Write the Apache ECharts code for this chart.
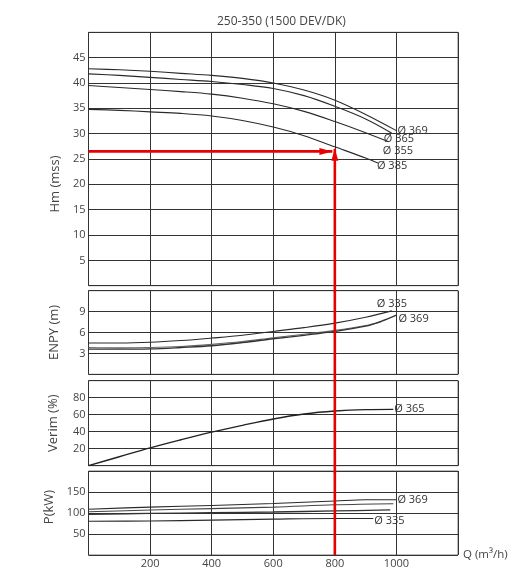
<!DOCTYPE html>
<html>
<head>
<meta charset="utf-8">
<script src="https://cdn.jsdelivr.net/npm/echarts@6/dist/echarts.min.js"></script>
<style>
html,body{margin:0;padding:0;background:#fff;}
#chart{width:529px;height:580px;}
</style>
</head>
<body>
<div id="chart"></div>
<script>
// ---------- Data ----------
const titleText = '250-350 (1500 DEV/DK)';

// Head curves Hm (mss) vs Q (m³/h)
const hm369Q = [0,100,200,300,400,500,600,700,800,900,1000];
const hm369  = [42.8,42.6,42.3,41.9,41.5,40.9,40.0,38.6,36.6,33.8,30.6];
const hm365Q = [0,100,200,300,400,500,600,700,800,900,985];
const hm365  = [41.8,41.5,41.1,40.7,40.3,39.7,38.9,37.5,35.4,32.9,30.1];
const hm355Q = [0,100,200,300,400,500,600,700,800,900,975];
const hm355  = [39.5,39.1,38.7,38.3,37.8,37.0,35.9,34.4,32.4,30.2,28.4];
const hm385Q = [0,100,200,300,400,500,600,700,800,900,940];
const hm385  = [34.8,34.6,34.3,34.0,33.5,32.6,31.3,29.6,27.4,25.2,24.2];

// NPSH (ENPY) curves
const np335Q = [0,100,200,300,400,500,600,700,800,900,985];
const np335  = [4.5,4.5,4.6,4.85,5.2,5.6,6.15,6.7,7.35,8.2,9.1];
const np369Q = [0,100,200,300,400,500,600,700,800,900,950,1000];
const np369  = [3.6,3.6,3.65,3.85,4.1,4.55,5.1,5.6,6.15,6.9,7.6,8.5];
const npMidQ = [0,100,200,300,400,500,600,700,800,900,950];
const npMid  = [3.85,3.8,3.85,4.0,4.3,4.7,5.25,5.75,6.3,7.0,7.5];

// Efficiency (Verim %)
const ef365Q = [0,100,200,300,400,500,600,700,800,900,990];
const ef365  = [0,10.5,21,30.5,39.5,47.5,55,60.8,64.3,66,66.3];

// Power P (kW)
const pw369Q = [0,200,400,600,800,900,1000];
const pw369  = [109,114,118,122.7,128.5,131.5,131.7];
const pwBQ   = [0,200,400,600,800,990];
const pwB    = [103,107,110.5,114,119.5,122];
const pwCQ   = [0,200,400,600,800,980];
const pwC    = [97,99,100.8,102.4,104.9,107.3];
const pw335Q = [0,200,400,600,800,925];
const pw335  = [80.5,81,83,85.4,87,87];

// Operating point annotation
const opQ = 800;        // vertical red line
const opH = 26.5;       // horizontal red line
const opArrowQ = 792;   // horizontal arrow tip
const opArrowH = 27;    // vertical arrow tip

// Axis settings
const xTicks = [0,200,400,600,800,1000,1200];
const hmRange = [0,50,5];
const npRange = [0,12,3];
const efRange = [0,100,20];
const pwRange = [0,200,50];

// ---------- Chart ----------
const FONT = 'Open Sans';
const LABEL_COLOR = '#444';
const CURVE = '#2a2a2a';
const RED = '#e60000';

const gridBase = {left: 88.5, right: 71, show: true, borderColor: '#777', borderWidth: 1};
const grids = [
  Object.assign({top: 32.3, height: 253.4}, gridBase),
  Object.assign({top: 290.7, height: 83.6}, gridBase),
  Object.assign({top: 380.7, height: 85}, gridBase),
  Object.assign({top: 471, height: 84}, gridBase)
];

const plain = v => String(v);

function xAxis(i, last) {
  return {
    type: 'value', gridIndex: i, min: xTicks[0], max: xTicks[xTicks.length-1],
    interval: xTicks[1]-xTicks[0],
    axisLine: {show: false}, axisTick: {show: false},
    splitLine: {show: true, lineStyle: {color: '#333', width: 1}},
    axisLabel: {show: last, showMinLabel: false, showMaxLabel: false, formatter: plain,
      color: LABEL_COLOR, fontFamily: FONT, fontSize: 11, margin: 3},
    name: last ? 'Q (m³/h)' : '', nameLocation: 'end', nameGap: 5,
    nameTextStyle: {color: LABEL_COLOR, fontFamily: FONT, fontSize: 11.5, padding: [2,0,0,0]}
  };
}
function yAxis(i, r, name, gap, pad) {
  return {
    type: 'value', gridIndex: i, min: r[0], max: r[1], interval: r[2],
    axisLine: {show: false}, axisTick: {show: false},
    splitLine: {show: true, lineStyle: {color: '#333', width: 1}},
    axisLabel: {showMinLabel: false, showMaxLabel: false, formatter: plain, color: LABEL_COLOR,
      fontFamily: FONT, fontSize: 11, margin: 3},
    name: name, nameLocation: 'middle', nameGap: gap,
    nameTextStyle: {color: LABEL_COLOR, fontFamily: FONT, fontSize: 13, padding: pad}
  };
}

function zip(q, v) { return q.map((x, k) => [x, v[k]]); }

function curve(gi, q, v, label, off, color, width) {
  const s = {
    type: 'line', xAxisIndex: gi, yAxisIndex: gi, data: zip(q, v),
    smooth: 0.35, showSymbol: false, silent: true,
    lineStyle: {color: color || CURVE, width: width || 1.1}
  };
  if (label) {
    s.endLabel = {show: true, formatter: label, offset: off, distance: 1,
      color: '#333', fontFamily: FONT, fontSize: 11};
  }
  return s;
}

function redLine(gi, pts, arrow) {
  const data = pts.map((p, k) => {
    const it = {value: p, symbol: 'none'};
    if (k === pts.length - 1 && arrow) {
      it.symbol = 'triangle';
      it.symbolSize = arrow.size;
      it.symbolRotate = arrow.rotate;
      it.symbolOffset = arrow.offset;
    }
    return it;
  });
  return {
    type: 'line', xAxisIndex: gi, yAxisIndex: gi, data: data, clip: false,
    silent: true, showSymbol: true, z: 5,
    lineStyle: {color: RED, width: 2.6},
    itemStyle: {color: RED}
  };
}

const chart = echarts.init(document.getElementById('chart'), null, {renderer: 'canvas'});
chart.setOption({
  animation: false,
  backgroundColor: '#fff',
  title: {text: titleText, left: 212, top: 11,
    textStyle: {fontFamily: FONT, fontSize: 12, fontWeight: 'normal', color: '#444'}},
  grid: grids,
  xAxis: [xAxis(0,false), xAxis(1,false), xAxis(2,false), xAxis(3,true)],
  yAxis: [
    yAxis(0, hmRange, 'Hm (mss)', 24, [0,50,0,0]),
    yAxis(1, npRange, 'ENPY (m)', 28, [0,0,0,0]),
    yAxis(2, efRange, 'Verim (%)', 29, [0,0,0,0]),
    yAxis(3, pwRange, 'P(kW)', 28, [0,0,0,12])
  ],
  series: [
    curve(0, hm369Q, hm369, 'Ø 369', [0, 0]),
    curve(0, hm365Q, hm365, 'Ø 365', [-9, 6]),
    curve(0, hm355Q, hm355, 'Ø 355', [-7, 9]),
    curve(0, hm385Q, hm385, 'Ø 385', [-2, 3]),

    curve(1, np335Q, np335, 'Ø 335', [-16, -7]),
    curve(1, npMidQ, npMid, null, null, '#666', 1.1),
    curve(1, np369Q, np369, 'Ø 369', [1, 4], '#333', 1.3),

    curve(2, ef365Q, ef365, 'Ø 365', [0, 0], '#222', 1.4),

    curve(3, pw369Q, pw369, 'Ø 369', [0, 0]),
    curve(3, pwBQ, pwB, null, null, '#444'),
    curve(3, pwCQ, pwC, null, null, '#333', 1.3),
    curve(3, pw335Q, pw335, 'Ø 335', [0, 2]),

    redLine(0, [[0, opH], [opArrowQ, opH]], {size: [7, 13], rotate: -90, offset: [-6.5, 0]}),
    redLine(0, [[opQ, hmRange[0] - 1.2], [opQ, opArrowH]], {size: [7, 12], rotate: 0, offset: [0, 6]}),
    redLine(1, [[opQ, npRange[0] - 1], [opQ, npRange[1]]]),
    redLine(2, [[opQ, efRange[0] - 8], [opQ, efRange[1]]]),
    redLine(3, [[opQ, pwRange[0]], [opQ, pwRange[1]]])
  ]
});
</script>
</body>
</html>
